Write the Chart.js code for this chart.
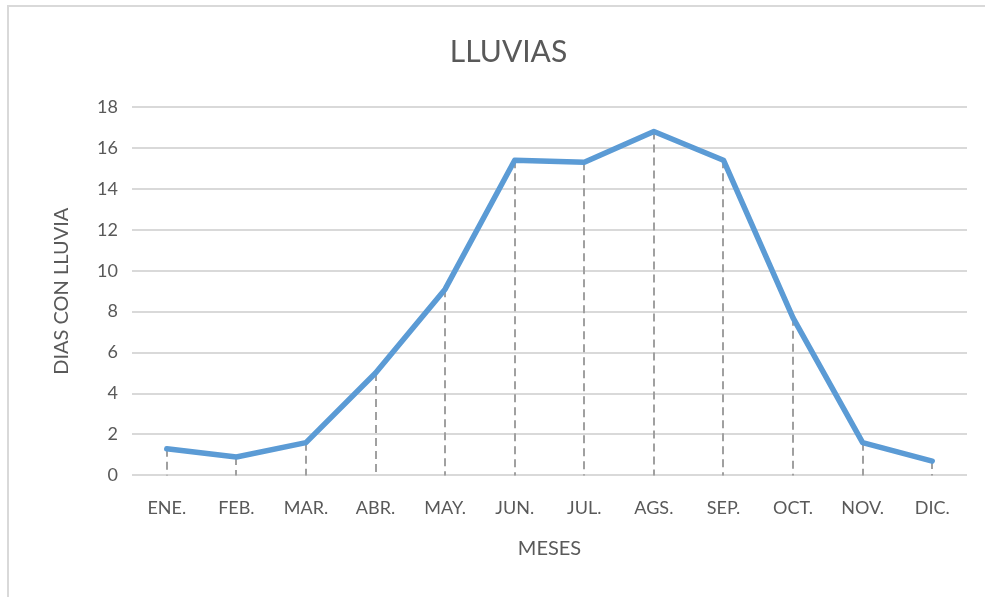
<!DOCTYPE html>
<html>
<head>
<meta charset="utf-8">
<script src="https://cdn.jsdelivr.net/npm/chart.js@4/dist/chart.umd.min.js"></script>
<style>
  html, body { margin: 0; padding: 0; background: #fff; }
  #wrap { position: relative; width: 985px; height: 597px; overflow: hidden; }
  #frame { position: absolute; left: 7px; top: 5px; width: 1000px; height: 700px;
           border-top: 2px solid #d9d9d9; border-left: 2px solid #d9d9d9; }
  #c { position: absolute; left: 0; top: 0; }
</style>
</head>
<body>
<div id="wrap">
  <div id="frame"></div>
  <canvas id="c" width="985" height="597"></canvas>
</div>
<script>
var meses = ['ENE.', 'FEB.', 'MAR.', 'ABR.', 'MAY.', 'JUN.', 'JUL.', 'AGS.', 'SEP.', 'OCT.', 'NOV.', 'DIC.'];
var diasLluvia = [1.3, 0.9, 1.6, 5.0, 9.1, 15.4, 15.3, 16.8, 15.4, 7.7, 1.6, 0.7];
var yTicks = [0, 2, 4, 6, 8, 10, 12, 14, 16, 18];

var fuente = 'Lato, "Open Sans", sans-serif';
var gris = '#595959';

// lineas punteadas desde cada punto hasta el eje
var lineasCaida = {
    id: 'lineasCaida',
    beforeDatasetsDraw: function(chart) {
        var ctx = chart.ctx;
        var meta = chart.getDatasetMeta(0);
        var y0 = chart.scales.y.getPixelForValue(0);
        ctx.save();
        ctx.strokeStyle = '#a0a0a0';
        ctx.lineWidth = 2;
        ctx.setLineDash([8, 5]);
        meta.data.forEach(function(p) {
            ctx.beginPath();
            ctx.moveTo(Math.round(p.x), p.y);
            ctx.lineTo(Math.round(p.x), y0);
            ctx.stroke();
        });
        ctx.restore();
    }
};

new Chart(document.getElementById('c'), {
    type: 'line',
    data: {
        labels: meses,
        datasets: [{
            data: diasLluvia,
            borderColor: '#5b9bd5',
            borderWidth: 5.5,
            borderCapStyle: 'round',
            borderJoinStyle: 'round',
            pointRadius: 0,
            tension: 0,
            fill: false
        }]
    },
    options: {
        responsive: false,
        animation: false,
        layout: { padding: { left: 50, right: 18, top: 0, bottom: 36 } },
        plugins: {
            legend: { display: false },
            tooltip: { enabled: false },
            title: {
                display: true,
                text: 'LLUVIAS',
                color: gris,
                font: { family: fuente, size: 30, weight: 'normal' },
                padding: { top: 34, bottom: 37 }
            }
        },
        scales: {
            x: {
                offset: true,
                grid: { display: false },
                border: { display: false },
                ticks: { color: gris, font: { family: fuente, size: 18 }, padding: 14, maxRotation: 0 },
                title: {
                    display: true,
                    text: 'MESES',
                    color: gris,
                    font: { family: fuente, size: 20 },
                    padding: { top: 4, bottom: 0 }
                }
            },
            y: {
                min: 0,
                max: 18,
                afterBuildTicks: function(axis) {
                    axis.ticks = yTicks.map(function(v) { return { value: v }; });
                },
                afterFit: function(axis) { axis.width = 82; },
                grid: { color: '#d9d9d9', lineWidth: 2, drawTicks: false },
                border: { display: false },
                ticks: { color: gris, font: { family: fuente, size: 18 }, padding: 14 },
                title: {
                    display: true,
                    text: 'DIAS CON LLUVIA',
                    color: gris,
                    font: { family: fuente, size: 20 },
                    padding: 0
                }
            }
        }
    },
    plugins: [lineasCaida]
});
</script>
</body>
</html>
